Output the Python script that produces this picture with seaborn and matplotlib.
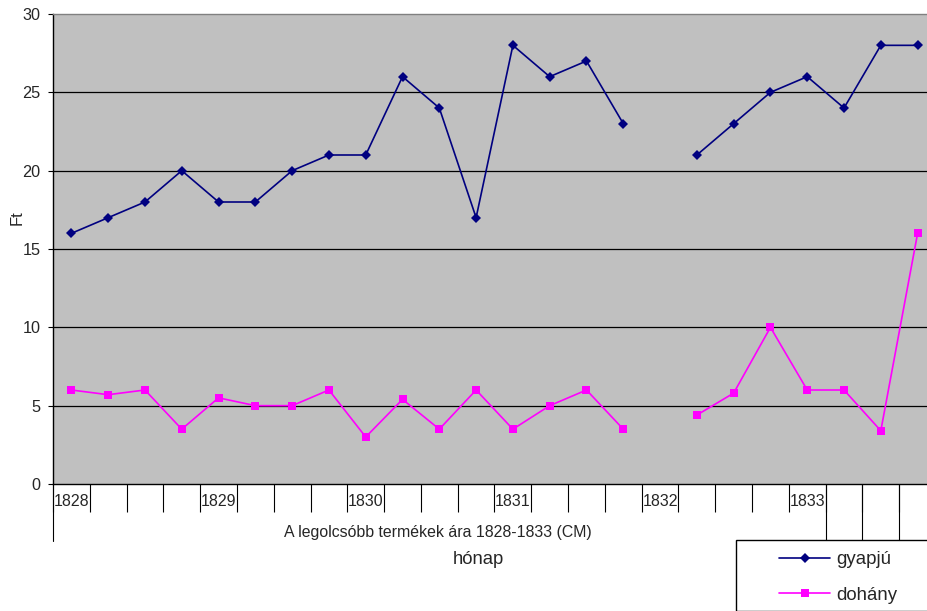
import numpy as np
import pandas as pd
import seaborn as sns
import matplotlib.pyplot as plt
import matplotlib.transforms as mtransforms
from matplotlib.lines import Line2D
from matplotlib.patches import Rectangle

# quarterly prices, 4 points per year, one missing point in 1832
years = ["1828", "1829", "1830", "1831", "1832", "1833"]
per_year = 4
gyapju = [16, 17, 18, 20, 18, 18, 20, 21, 21, 26, 24, 17,
          28, 26, 27, 23, np.nan, 21, 23, 25, 26, 24, 28, 28]
dohany = [6, 5.7, 6, 3.5, 5.5, 5, 5, 6, 3, 5.4, 3.5, 6,
          3.5, 5, 6, 3.5, np.nan, 4.4, 5.8, 10, 6, 6, 3.4, 16]
series_names = ["gyapjú", "dohány"]
colors = ["#000080", "#FF00FF"]
marker_shapes = ["D", "s"]
yticks = [0, 5, 10, 15, 20, 25, 30]

rows = []
for name, vals in zip(series_names, [gyapju, dohany]):
    seg = 0
    for i, v in enumerate(vals):
        if np.isnan(v):
            seg += 1
            continue
        rows.append({"pos": i, "ar": v, "termek": name, "seg": seg})
df = pd.DataFrame(rows)

sns.set_theme(style="white")
plt.rcParams["font.family"] = ["Liberation Sans", "DejaVu Sans"]

W, H = 928, 611
fig = plt.figure(figsize=(W / 100, H / 100), dpi=100)
ax = fig.add_axes([53 / W, 1 - 484 / H, (936 - 53) / W, 470 / H])
ax.set_facecolor("#C0C0C0")

for v in yticks[1:-1]:
    ax.axhline(v, color="black", lw=0.9, zorder=1)

sns.lineplot(data=df, x="pos", y="ar", hue="termek", style="termek",
             units="seg", estimator=None, palette=dict(zip(series_names, colors)),
             markers=dict(zip(series_names, marker_shapes)), dashes=False,
             markersize=5.5, markeredgewidth=0, lw=1.2, legend=False, ax=ax, zorder=3)

n = len(gyapju)
ax.set_xlim(-0.5, n - 0.5)
ax.set_ylim(0, 30)
ax.set_yticks(yticks)
ax.tick_params(axis="y", labelsize=11.7, length=3.6, width=0.8, color="black",
               pad=5.5, left=True, direction="out")
ax.set_xticks(np.arange(-0.5, n - 0.5, 1))
ax.set_xticklabels([])
ax.tick_params(axis="x", length=20, width=0.8, color="black", bottom=True,
               direction="out")
ax.set_xlabel("")
ax.set_ylabel("")

for s in ["left", "bottom"]:
    ax.spines[s].set_color("black")
    ax.spines[s].set_linewidth(1.0)
ax.spines["top"].set_color("#808080")
ax.spines["top"].set_linewidth(1.0)
ax.spines["right"].set_visible(False)

trans = mtransforms.blended_transform_factory(ax.transData, ax.transAxes)
for i, y in enumerate(years):
    ax.text(i * per_year - 0.5 + 0.02, -18 / 470, y, transform=trans,
            ha="left", va="center", fontsize=11.5)

# longer group separators below the category row
for xb in [-0.5, n - 3.5, n - 2.5, n - 1.5]:
    ax.plot([xb, xb], [0, -57 / 470], transform=trans, color="black",
            lw=0.8, clip_on=False)

fig.text(438 / W, 1 - 532 / H, "A legolcsóbb termékek ára 1828-1833 (CM)",
         ha="center", va="center", fontsize=11.4)
fig.text(478 / W, 1 - 560 / H, "hónap", ha="center", va="center", fontsize=13.3)
fig.text(17 / W, 1 - 218 / H, "Ft", ha="center", va="center", rotation=90,
         fontsize=12)

# legend box
fig.patches.append(Rectangle((736 / W, 0), (W - 736) / W + 0.01, 1 - 540 / H,
                             transform=fig.transFigure, facecolor="white",
                             edgecolor="black", lw=1.0, zorder=5))
handles = [Line2D([], [], color=c, marker=m, markersize=5.5, markeredgewidth=0, lw=1.2)
           for c, m in zip(colors, marker_shapes)]
leg = fig.legend(handles, series_names, loc="upper left",
                 bbox_to_anchor=(779 / W, 1 - 551 / H), frameon=False,
                 fontsize=13.4, handlelength=2.75, handletextpad=0.35,
                 labelspacing=1.0, borderpad=0, borderaxespad=0)
leg.set_zorder(6)

fig.savefig("out.png", dpi=100)
